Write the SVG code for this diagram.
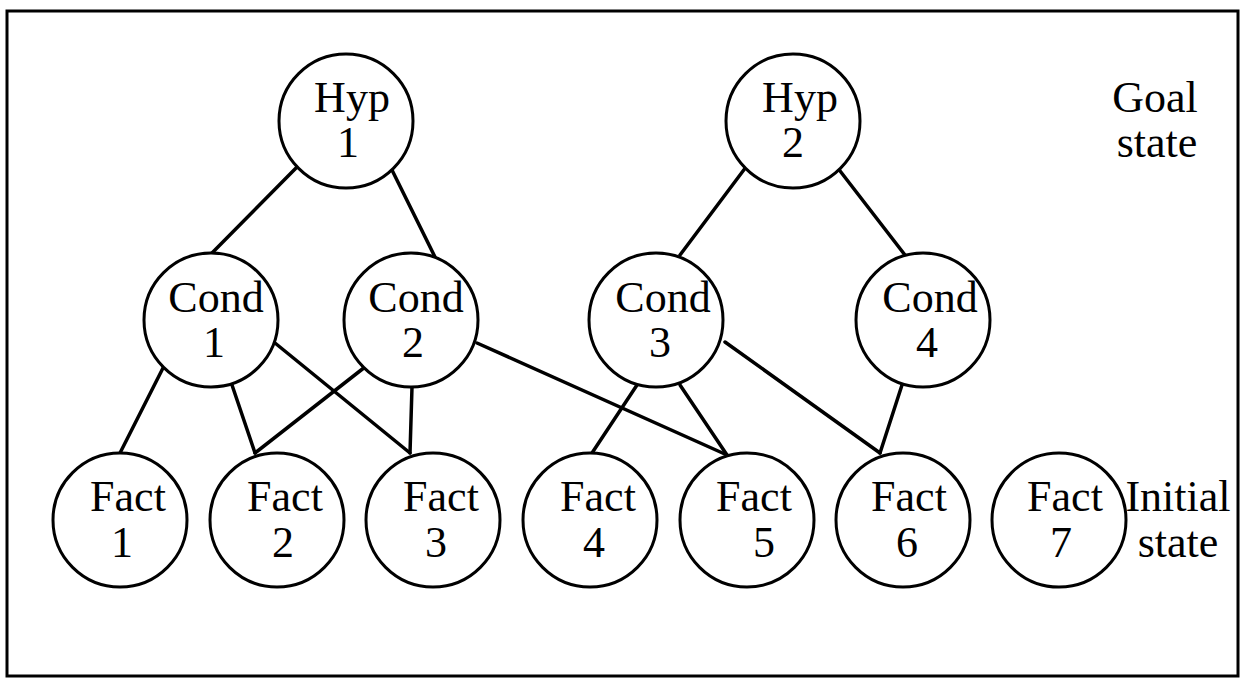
<svg xmlns="http://www.w3.org/2000/svg" width="1242" height="678" viewBox="0 0 1242 678">
<style>
.n{fill:#fff;stroke:#000;stroke-width:3}
.t{font-family:"Liberation Serif","Times New Roman",serif;font-size:44px;fill:#000;text-anchor:middle}
.c line{stroke:#000;stroke-width:3.5;stroke-linecap:round}
</style>
<rect x="7" y="11" width="1231" height="665" fill="#fff" stroke="#000" stroke-width="3"/>
<g id="connectors" class="c">
<line x1="298" y1="166" x2="212" y2="253"/>
<line x1="390" y1="166" x2="435" y2="257"/>
<line x1="746" y1="167" x2="680" y2="255"/>
<line x1="837" y1="167" x2="905" y2="255"/>
<line x1="163" y1="368" x2="120" y2="453"/>
<line x1="232" y1="385" x2="255" y2="453"/>
<line x1="275" y1="343" x2="410" y2="453"/>
<line x1="365" y1="367" x2="255" y2="453"/>
<line x1="412" y1="387" x2="410" y2="453"/>
<line x1="477" y1="343" x2="727" y2="455"/>
<line x1="637" y1="385" x2="592" y2="453"/>
<line x1="680" y1="385" x2="727" y2="455"/>
<line x1="725" y1="342" x2="880" y2="453"/>
<line x1="902" y1="385" x2="880" y2="453"/>
</g>
<g id="hyp1"><circle class="n" cx="346" cy="121" r="67"/><text class="t" x="352" y="112">Hyp</text><text class="t" x="348" y="157">1</text></g>
<g id="hyp2"><circle class="n" cx="793" cy="121" r="67"/><text class="t" x="800" y="112">Hyp</text><text class="t" x="793" y="157">2</text></g>
<g id="cond1"><circle class="n" cx="211" cy="320" r="67"/><text class="t" x="216" y="312">Cond</text><text class="t" x="214" y="357">1</text></g>
<g id="cond2"><circle class="n" cx="411" cy="320" r="67"/><text class="t" x="416" y="312">Cond</text><text class="t" x="413" y="357">2</text></g>
<g id="cond3"><circle class="n" cx="656" cy="320" r="67"/><text class="t" x="663" y="312">Cond</text><text class="t" x="660" y="357">3</text></g>
<g id="cond4"><circle class="n" cx="923" cy="320" r="67"/><text class="t" x="930" y="312">Cond</text><text class="t" x="927" y="357">4</text></g>
<g id="fact1"><circle class="n" cx="120" cy="520" r="67"/><text class="t" x="128" y="511">Fact</text><text class="t" x="122" y="557">1</text></g>
<g id="fact2"><circle class="n" cx="277" cy="520" r="67"/><text class="t" x="285" y="511">Fact</text><text class="t" x="283" y="557">2</text></g>
<g id="fact3"><circle class="n" cx="433" cy="520" r="67"/><text class="t" x="441" y="511">Fact</text><text class="t" x="436" y="557">3</text></g>
<g id="fact4"><circle class="n" cx="590" cy="520" r="67"/><text class="t" x="598" y="511">Fact</text><text class="t" x="594" y="557">4</text></g>
<g id="fact5"><circle class="n" cx="747" cy="520" r="67"/><text class="t" x="754" y="511">Fact</text><text class="t" x="764" y="557">5</text></g>
<g id="fact6"><circle class="n" cx="903" cy="520" r="67"/><text class="t" x="909" y="511">Fact</text><text class="t" x="907" y="557">6</text></g>
<g id="fact7"><circle class="n" cx="1059" cy="520" r="67"/><text class="t" x="1065" y="511">Fact</text><text class="t" x="1061" y="557">7</text></g>
<g id="goal-label"><text class="t" x="1155" y="112">Goal</text><text class="t" x="1157" y="157">state</text></g>
<g id="initial-label"><text class="t" x="1178" y="511">Initial</text><text class="t" x="1178" y="557">state</text></g>
</svg>
